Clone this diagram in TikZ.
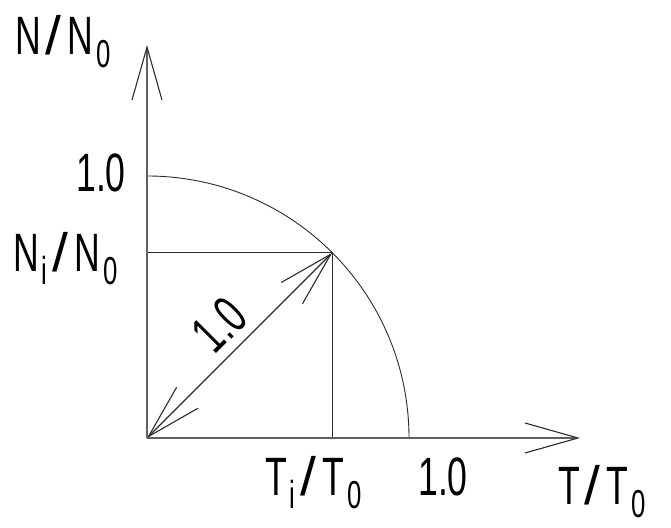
\documentclass[tikz,border=0pt]{standalone}
\usepackage{fontspec}
\setmainfont{Liberation Sans}[FakeStretch=0.66]
\usepackage{tikz}
\usetikzlibrary{arrows.meta,calc}
\definecolor{ink}{HTML}{2B2B2B}
\definecolor{axis}{HTML}{606060}
\newcommand{\lowsub}[1]{\hspace{3pt}\raisebox{-13pt}{\fontsize{39}{39}\selectfont #1}}
\newcommand{\fsl}{\hspace{5pt}\scalebox{1.6}[1]{/}\hspace{6pt}}
\tikzset{
  every node/.style={font=\fontsize{54}{54}\selectfont,text=black,inner sep=0pt},
  axisline/.style={-{Straight Barb[length=53pt,width=30pt,line width=1.1pt,color=ink]},line width=2pt,draw=axis},
  thin/.style={line width=1.1pt,draw=ink},
  vector/.style={{Straight Barb[length=55pt,width=30pt,line width=1.1pt]}-{Straight Barb[length=55pt,width=30pt,line width=1.1pt]},line width=1.1pt,draw=ink},
  tick/.style={anchor=base west},
}
\begin{document}
\begin{tikzpicture}[x=1pt,y=1pt]
  \useasboundingbox (0,0) rectangle (671,527);
  \coordinate (O) at (147,89);
  \coordinate (ytop) at (147,482);
  \coordinate (xend) at (580,89);
  \coordinate (P) at ($(O)+(45:262)$);
  \coordinate (Pl) at (O |- P);
  \coordinate (Pb) at (P |- O);

  % quarter circle of radius 1.0
  \draw[thin,line width=0.9pt] ($(O)+(0,262)$) arc[start angle=90,end angle=0,radius=262];
  \draw[thin] (Pl) -- (P) -- (Pb);
  \draw[vector] (O) -- node[pos=0.5,sloped,above=9pt] (rlab) {1.0} (P);

  \draw[axisline] (O) -- (ytop);
  \draw[axisline] (O) -- (xend);

  \node[tick] (ylab) at (15,472) {N\fsl N\lowsub{0}};
  \node[tick] (yone) at (76,335) {1.0};
  \node[tick] (ylabi) at (13,255) {N\lowsub{i}\fsl N\lowsub{0}};
  \node[tick] (xlabi) at (265,32) {T\lowsub{i}\fsl T\lowsub{0}};
  \node[tick] (xone) at (418,32) {1.0};
  \node[tick] (xlab) at (558,23) {T\fsl T\lowsub{0}};
\end{tikzpicture}
\end{document}
